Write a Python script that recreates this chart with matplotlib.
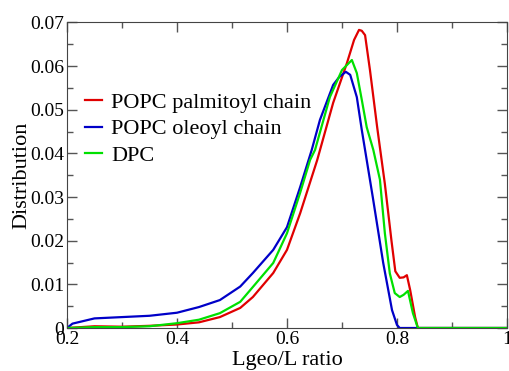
import matplotlib.pyplot as plt
from matplotlib.ticker import MultipleLocator, FixedLocator

# POPC palmitoyl chain
x_palm = [0.20, 0.25, 0.30, 0.35, 0.40, 0.44, 0.478, 0.515, 0.538, 0.575, 0.60, 0.624,
          0.655, 0.684, 0.709, 0.722, 0.731, 0.736, 0.742, 0.751, 0.764, 0.778, 0.790,
          0.797, 0.805, 0.812, 0.818, 0.824, 0.833, 0.838, 1.0]
y_palm = [0.0, 0.0004, 0.0003, 0.0005, 0.0008, 0.0013, 0.0025, 0.0046, 0.0071, 0.0126, 0.0179, 0.0263,
          0.0385, 0.0516, 0.0607, 0.0660, 0.0683, 0.0681, 0.0671, 0.0590, 0.0460, 0.0330, 0.0200,
          0.0130, 0.0115, 0.0116, 0.0121, 0.0087, 0.0025, 0.0, 0.0]

# POPC oleoyl chain
x_ole = [0.20, 0.21, 0.25, 0.30, 0.35, 0.40, 0.44, 0.478, 0.515, 0.538, 0.575, 0.60, 0.624,
         0.645, 0.66, 0.684, 0.695, 0.707, 0.715, 0.727, 0.736, 0.756, 0.775, 0.791, 0.80,
         0.805, 1.0]
y_ole = [0.0, 0.0010, 0.0022, 0.0025, 0.0028, 0.0035, 0.0048, 0.0064, 0.0095, 0.0126, 0.0179, 0.0231, 0.0323,
         0.0408, 0.0477, 0.0557, 0.0575, 0.0587, 0.0580, 0.0529, 0.0454, 0.0300, 0.0149, 0.0041, 0.0007,
         0.0, 0.0]

# DPC
x_dpc = [0.20, 0.25, 0.30, 0.35, 0.40, 0.44, 0.478, 0.515, 0.538, 0.575, 0.60, 0.624, 0.642,
         0.651, 0.678, 0.70, 0.718, 0.727, 0.736, 0.745, 0.757, 0.769, 0.778, 0.787, 0.796,
         0.805, 0.812, 0.82, 0.829, 0.838, 1.0]
y_dpc = [0.0, 0.0002, 0.0002, 0.0004, 0.0011, 0.0019, 0.0034, 0.0060, 0.0094, 0.0149, 0.0217, 0.0310, 0.0385,
         0.0408, 0.0529, 0.0591, 0.0614, 0.0584, 0.0523, 0.0460, 0.0408, 0.0340, 0.0217, 0.0125, 0.0080,
         0.0071, 0.0076, 0.0085, 0.0034, 0.0, 0.0]

x_ticks = [0.2, 0.4, 0.6, 0.8, 1.0]
x_labels = ["0.2", "0.4", "0.6", "0.8", "1"]
y_ticks = [0, 0.01, 0.02, 0.03, 0.04, 0.05, 0.06, 0.07]
y_labels = ["0", "0.01", "0.02", "0.03", "0.04", "0.05", "0.06", "0.07"]

plt.rcParams['font.family'] = ['Liberation Serif', 'DejaVu Serif']

fig = plt.figure(figsize=(5.09, 3.71), dpi=100)
ax = fig.add_axes([0.1316, 0.1159, 0.8644, 0.8235])

ax.plot(x_palm, y_palm, color="#e00000", lw=1.6, label="POPC palmitoyl chain")
ax.plot(x_ole, y_ole, color="#0000c8", lw=1.6, label="POPC oleoyl chain")
ax.plot(x_dpc, y_dpc, color="#00e000", lw=1.6, label="DPC")

ax.set_xlim(0.2, 1.0)
ax.set_ylim(0, 0.07)
ax.xaxis.set_major_locator(FixedLocator(x_ticks))
ax.set_xticklabels(x_labels)
ax.xaxis.set_minor_locator(MultipleLocator(0.1))
ax.yaxis.set_major_locator(FixedLocator(y_ticks))
ax.set_yticklabels(y_labels)
ax.yaxis.set_minor_locator(MultipleLocator(0.005))

ax.tick_params(which="both", direction="in", top=True, right=True, color="#555555",
               labelsize=14)
ax.tick_params(which="major", length=7, width=1)
ax.tick_params(which="minor", length=4.5, width=1)
ax.tick_params(axis="y", pad=2)
ax.tick_params(axis="x", pad=2)
for s in ax.spines.values():
    s.set_color("#444444")

ax.set_xlabel("Lgeo/L ratio", fontsize=16, labelpad=2)
ax.set_ylabel("Distribution", fontsize=16, labelpad=-1)

ax.legend(loc="upper left", bbox_to_anchor=(0.02, 0.80), frameon=False, fontsize=16,
          handlelength=0.8, handletextpad=0.4, labelspacing=0.26, borderaxespad=0)

fig.savefig("out.png", dpi=100)
